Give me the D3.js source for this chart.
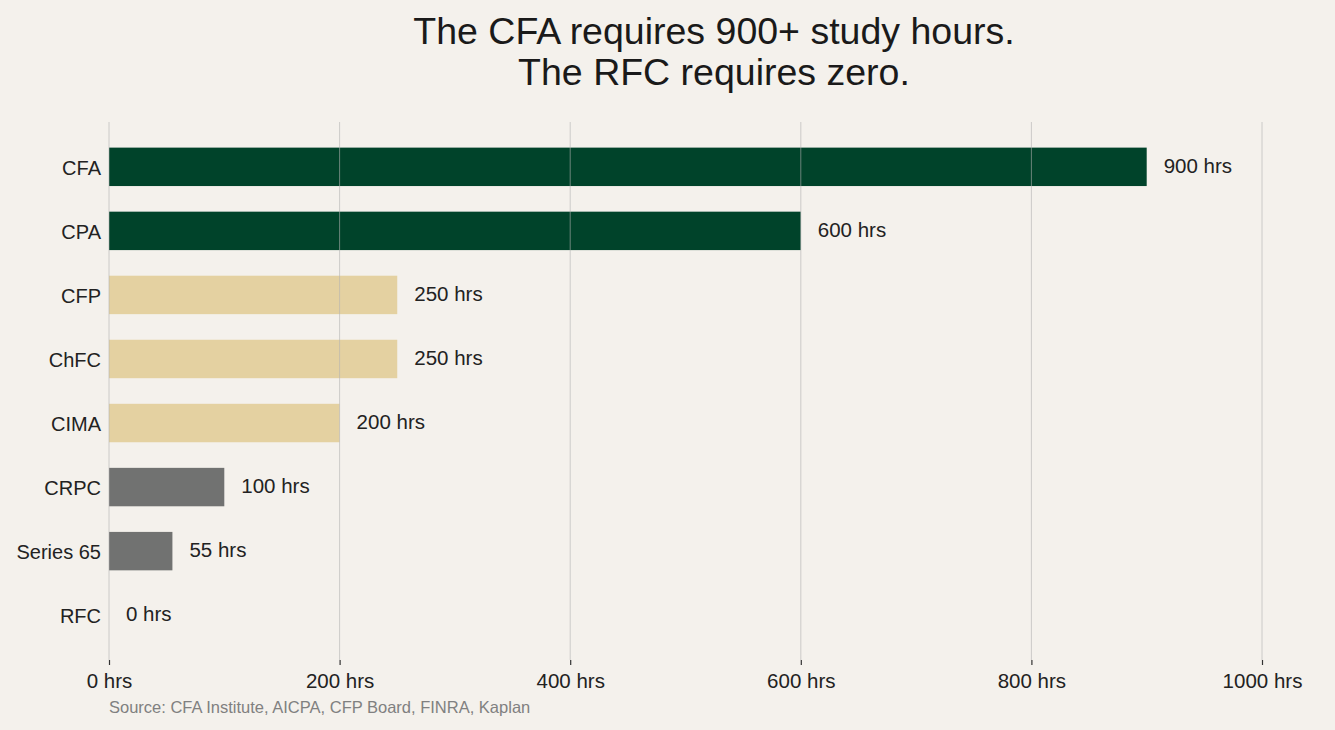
<!DOCTYPE html>
<html>
<head>
<meta charset="UTF-8">
<script src="https://d3js.org/d3.v7.min.js"></script>
<style>
  body { margin: 0; background: #f4f1ec; }
  svg { display: block; font-family: "Liberation Sans", Arial, sans-serif; }
</style>
</head>
<body>
<svg id="chart"></svg>
<script>
// data
const credentials = ["CFA", "CPA", "CFP", "ChFC", "CIMA", "CRPC", "Series 65", "RFC"];
const hours = [900, 600, 250, 250, 200, 100, 55, 0];
const groups = ["high", "high", "mid", "mid", "mid", "low", "low", "low"];
const xTicks = [0, 200, 400, 600, 800, 1000];

const W = 1335, H = 730;
const margin = { top: 122, right: 73, bottom: 70, left: 109 };

const svg = d3.select("#chart").attr("width", W).attr("height", H);
svg.append("rect").attr("width", W).attr("height", H).attr("fill", "#f4f1ec");

const x = d3.scaleLinear().domain([0, 1000]).range([margin.left, W - margin.right]);
const y = d3.scaleBand().domain(credentials).range([margin.top, H - margin.bottom]).padding(0.4);
const color = d3.scaleOrdinal().domain(["high", "mid", "low"]).range(["#00432a", "#e4d1a1", "#717271"]);

const rows = credentials.map((c, i) => ({ name: c, value: hours[i], group: groups[i] }));

// bars
svg.append("g").selectAll("rect")
  .data(rows)
  .join("rect")
  .attr("x", x(0))
  .attr("y", d => y(d.name))
  .attr("width", d => x(d.value) - x(0))
  .attr("height", y.bandwidth())
  .attr("fill", d => color(d.group));

// grid on top, semi transparent
svg.append("g").selectAll("line")
  .data(xTicks)
  .join("line")
  .attr("x1", d => x(d)).attr("x2", d => x(d))
  .attr("y1", margin.top).attr("y2", H - margin.bottom)
  .attr("stroke", "#b0b0b0").attr("stroke-opacity", 0.6).attr("stroke-width", 1);

// x axis
const xAxis = svg.append("g")
  .attr("transform", `translate(0,${H - margin.bottom})`)
  .call(d3.axisBottom(x).tickValues(xTicks).tickFormat(d => d + " hrs").tickSize(5).tickPadding(8));
xAxis.select(".domain").remove();
xAxis.selectAll(".tick line").attr("stroke", "#333").attr("stroke-width", 1.2);
xAxis.selectAll(".tick text").attr("font-size", 20.5).attr("fill", "#222")
  .attr("font-family", "Liberation Sans, Arial, sans-serif");

// y axis
const yAxis = svg.append("g")
  .attr("transform", `translate(${margin.left},0)`)
  .call(d3.axisLeft(y).tickSize(0).tickPadding(8));
yAxis.select(".domain").remove();
yAxis.selectAll(".tick text").attr("font-size", 20).attr("fill", "#222")
  .attr("dy", "0.4em")
  .attr("font-family", "Liberation Sans, Arial, sans-serif");

// value labels
svg.append("g").selectAll("text")
  .data(rows)
  .join("text")
  .attr("x", d => x(d.value) + 17)
  .attr("y", d => y(d.name) + y.bandwidth() / 2)
  .attr("dy", "0.3em")
  .attr("font-size", 20.5)
  .attr("fill", "#222")
  .text(d => d.value + " hrs");

// title
const title = svg.append("text")
  .attr("x", 714).attr("y", 44)
  .attr("text-anchor", "middle")
  .attr("font-size", 37.5)
  .attr("fill", "#1a1a1a");
title.append("tspan").attr("x", 714).attr("dy", 0).text("The CFA requires 900+ study hours.");
title.append("tspan").attr("x", 714).attr("dy", 41).text("The RFC requires zero.");

// source
svg.append("text")
  .attr("x", margin.left).attr("y", 713)
  .attr("font-size", 16.5)
  .attr("fill", "#808080")
  .text("Source: CFA Institute, AICPA, CFP Board, FINRA, Kaplan");
</script>
</body>
</html>
